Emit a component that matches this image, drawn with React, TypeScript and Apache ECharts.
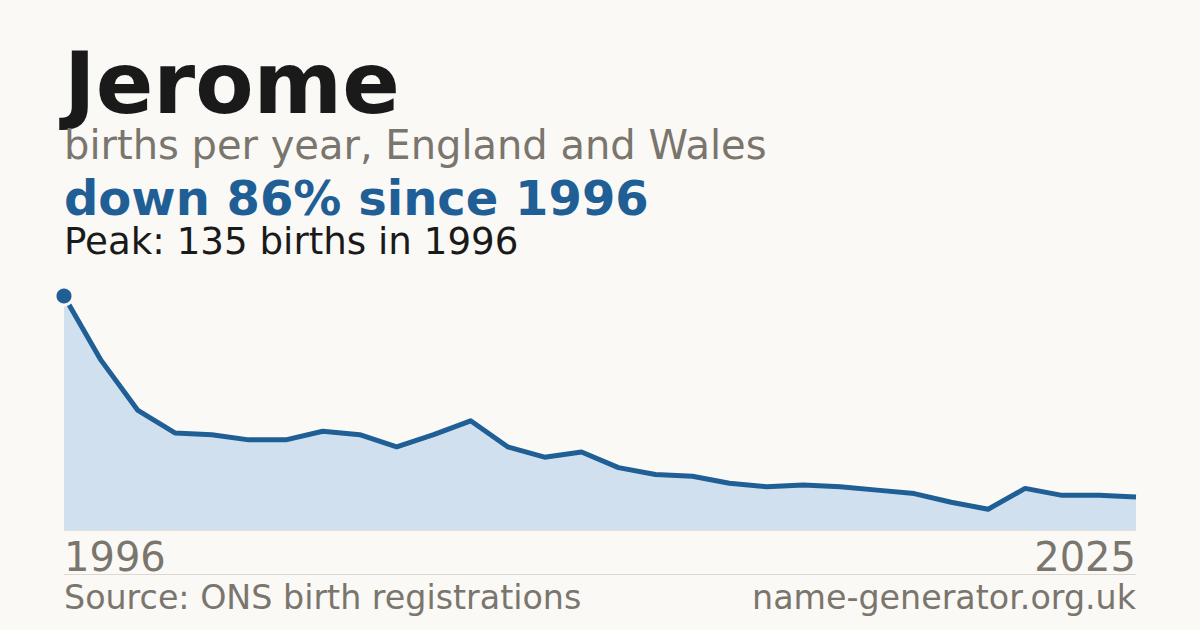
import React, { useEffect, useRef } from "react";
import * as echarts from "echarts";

const years: string[] = [
  "1996", "1997", "1998", "1999", "2000", "2001", "2002", "2003", "2004", "2005",
  "2006", "2007", "2008", "2009", "2010", "2011", "2012", "2013", "2014", "2015",
  "2016", "2017", "2018", "2019", "2020", "2021", "2022", "2023", "2024", "2025",
];
const births: number[] = [
  135, 98, 69, 56, 55, 52, 52, 57, 55, 48,
  55, 63, 48, 42, 45, 36, 32, 31, 27, 25,
  26, 25, 23, 21, 16, 12, 24, 20, 20, 19,
];
const titleText = "Jerome";
const subtitleText = "births per year, England and Wales";
const changeText = "down 86% since 1996";
const peakText = "Peak: 135 births in 1996";
const sourceText = "Source: ONS birth registrations";
const siteText = "name-generator.org.uk";

const FONT = "'DejaVu Sans', Verdana, sans-serif";
const BG = "#faf9f5";
const BLUE = "#1f5f96";
const GRAY = "#7a756d";

// place a text by its alphabetic baseline
function textAt(
  text: string,
  baseline: number,
  size: number,
  fill: string,
  bold: boolean,
  side: "left" | "right"
) {
  const el: any = {
    type: "text",
    top: baseline - 0.846 * size,
    style: {
      text,
      font: `${bold ? "bold " : ""}${size}px ${FONT}`,
      fill,
    },
  };
  el[side] = 64;
  return el;
}

export default function App() {
  const ref = useRef<HTMLDivElement>(null);
  useEffect(() => {
    if (!ref.current) return;
    const chart = echarts.init(ref.current, null, { renderer: "svg" });
    const peakIdx = births.indexOf(Math.max(...births));
    const data = births.map((v, i) =>
      i === peakIdx
        ? {
            value: v,
            symbol: "circle",
            symbolSize: 18,
            itemStyle: { color: BLUE, borderColor: BG, borderWidth: 3 },
          }
        : { value: v, symbol: "none" }
    );
    chart.setOption({
      animation: false,
      backgroundColor: BG,
      textStyle: { fontFamily: FONT },
      grid: { left: 64, right: 64, top: 296, bottom: 100, containLabel: false },
      xAxis: {
        type: "category",
        data: years,
        boundaryGap: false,
        axisLine: { show: true, lineStyle: { color: "#e6dfd3", width: 1 } },
        axisTick: { show: false },
        axisLabel: {
          interval: (i: number) => i === 0 || i === years.length - 1,
          color: GRAY,
          fontSize: 40,
          fontFamily: FONT,
          margin: 7,
          alignMinLabel: "left",
          alignMaxLabel: "right",
        },
        splitLine: { show: false },
      },
      yAxis: {
        type: "value",
        min: 0,
        max: 135,
        show: false,
      },
      series: [
        {
          type: "line",
          data,
          symbol: "none",
          showSymbol: true,
          lineStyle: { color: BLUE, width: 5, join: "round" },
          areaStyle: { color: "#d0e0ef", opacity: 1 },
          itemStyle: { color: BLUE },
          z: 3,
        },
      ],
      graphic: [
        textAt(titleText, 113, 85, "#1a1a1a", true, "left"),
        textAt(subtitleText, 159, 40, GRAY, false, "left"),
        textAt(changeText, 215, 48, BLUE, true, "left"),
        textAt(peakText, 254, 37.2, "#1a1a1a", false, "left"),
        {
          type: "line",
          shape: { x1: 64, y1: 574.5, x2: 1136, y2: 574.5 },
          style: { stroke: "#dcd8d0", lineWidth: 1 },
        },
        textAt(sourceText, 609, 33.3, GRAY, false, "left"),
        textAt(siteText, 609, 33.3, GRAY, false, "right"),
      ],
    });
    return () => chart.dispose();
  }, []);
  return (
    <div
      ref={ref}
      style={{ position: "fixed", left: 0, top: 0, width: 1200, height: 630 }}
    />
  );
}
